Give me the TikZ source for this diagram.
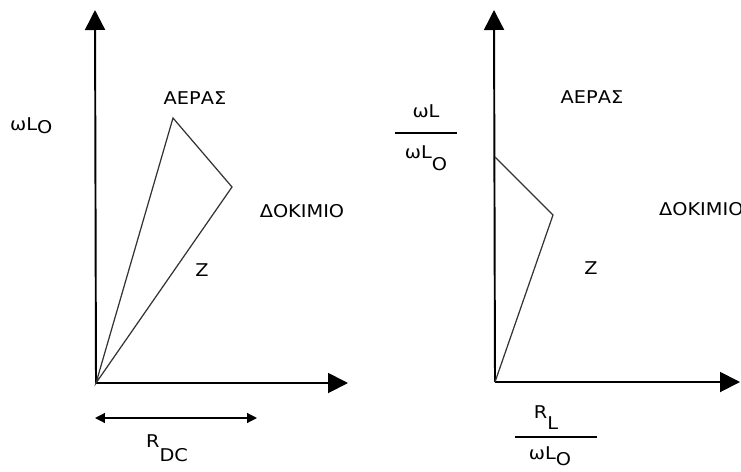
\documentclass[tikz,border=0pt]{standalone}
\usepackage{fontspec}
\setmainfont{DejaVu Sans}[FakeStretch=1.1]
\usetikzlibrary{arrows.meta, positioning}

\newcommand{\lowsub}[2][-0.6ex]{\raisebox{#1}{#2}}

\begin{document}
\begin{tikzpicture}[
    x=0.02cm, y=-0.02cm,
    font=\fontsize{10}{12}\selectfont,
    axis/.style={line width=1.1pt, -{Triangle[length=0.4cm, width=0.4cm]}},
    vec/.style={line width=0.7pt, black!80},
    dimarr/.style={line width=0.7pt,
                   {Triangle[length=0.2cm, width=0.2cm]}-{Triangle[length=0.2cm, width=0.2cm]}},
    lbl/.style={inner sep=1pt},
    fracbar/.style={inner sep=0pt, outer sep=0pt}
]
\useasboundingbox (0,0) rectangle (741,471);

%% ---- LEFT: air / specimen with R_DC ----------------------------
\coordinate (o1)    at (96,383);
\coordinate (ytip1) at (95,10);
\coordinate (xtip1) at (348,383);
\coordinate (air1)  at (173,118);
\coordinate (spec1) at (232,187);

\draw[axis] (o1) -- (ytip1);
\draw[axis] (o1) -- (xtip1);
\draw[vec]  (o1) -- (air1) -- (spec1) -- cycle;

\node[lbl] (airlbl1)  at (195,98)  {ΑΕΡΑΣ};
\node[lbl] (speclbl1) at (302,211) {ΔΟΚΙΜΙΟ};
\node[lbl] (z1)       at (202,270) {Z};
\node[lbl, anchor=base west] (wl1) at (8,130) {ωL\lowsub[-2pt]{O}};

\coordinate (rdcL) at (95,418);
\coordinate (rdcR) at (257,418);
\draw[dimarr] (rdcL) -- (rdcR);
\node[lbl, anchor=base west] (rdc) at (144,447) {R\lowsub[-8.5pt]{DC}};

%% ---- RIGHT: normalised diagram ---------------------------------
\coordinate (o2)    at (495,382);
\coordinate (ytip2) at (494,10);
\coordinate (xtip2) at (740,382);
\coordinate (top2)  at (495,157);
\coordinate (knee2) at (553,215);

\draw[axis] (o2) -- (ytip2);
\draw[axis] (o2) -- (xtip2);
\draw[vec]  (top2) -- (knee2) -- (o2);

\node[lbl] (airlbl2) at (592,97) {ΑΕΡΑΣ};
\node[lbl, anchor=west] (speclbl2) at (657,209) {ΔΟΚΙΜΙΟ};
\node[lbl] (z2) at (591,268) {Z};

% y label: wL / wL_O
\node[fracbar] (ybar) at (426,133) {\rule{1.26cm}{0.6pt}};
\node[lbl, above=7pt of ybar] (ynum) {ωL};
\node[lbl, below=5.5pt of ybar] (yden) {ωL\lowsub[-7pt]{O}};

% x label: R_L / wL_O
\node[fracbar] (xbar) at (556,437) {\rule{1.64cm}{0.6pt}};
\node[lbl, above=2.5pt of xbar, xshift=-0.2cm] (xnum) {R\lowsub[-6.5pt]{L}};
\node[lbl, below=4pt of xbar, xshift=-0.12cm] (xden) {ωL\lowsub[-3pt]{O}};

\end{tikzpicture}
\end{document}
